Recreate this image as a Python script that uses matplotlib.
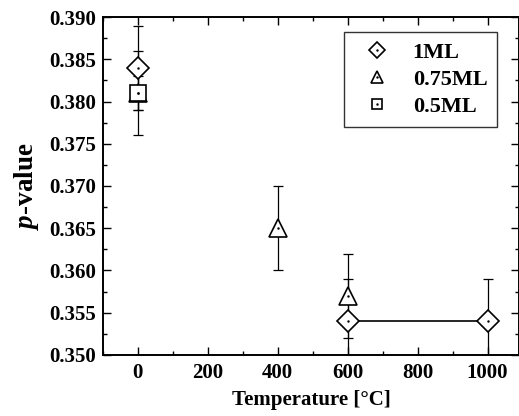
import numpy as np
import matplotlib.pyplot as plt
from matplotlib.ticker import MultipleLocator, FormatStrFormatter
from matplotlib.legend_handler import HandlerTuple

plt.rcParams['font.family'] = 'Liberation Serif'
plt.rcParams['font.weight'] = 'bold'
plt.rcParams['mathtext.fontset'] = 'custom'
plt.rcParams['mathtext.it'] = 'Liberation Serif:italic:bold'
plt.rcParams['mathtext.rm'] = 'Liberation Serif:bold'

# data
temp_1ml = [0, 600, 1000]
p_1ml = [0.384, 0.354, 0.354]
err_1ml = [0.005, 0.005, 0.005]

temp_075ml = [0, 400, 600]
p_075ml = [0.381, 0.365, 0.357]
err_075ml = [0.005, 0.005, 0.005]

temp_05ml = [0]
p_05ml = [0.381]
err_05ml = [0.002]

fig = plt.figure(figsize=(5.19, 4.16), dpi=100)
ax = fig.add_axes([0.198, 0.147, 0.802, 0.812])

# connecting line for 1ML between 600 and 1000
ax.plot(temp_1ml[1:], p_1ml[1:], color='black', lw=1.2, zorder=1)

series = [
    (temp_1ml, p_1ml, err_1ml, 'D', 11, 8, '1ML'),
    (temp_075ml, p_075ml, err_075ml, '^', 13, 8.5, '0.75ML'),
    (temp_05ml, p_05ml, err_05ml, 's', 12, 7, '0.5ML'),
]
handles = []
labels = []
for x, y, e, m, ms, lms, lab in series:
    ax.errorbar(x, y, yerr=e, fmt='none', ecolor='black', elinewidth=0.9,
                capsize=3.5, capthick=0.9, zorder=2)
    ax.plot(x, y, linestyle='none', marker=m, ms=ms, mfc='white', mec='black',
            mew=1.2, zorder=3)
    ax.plot(x, y, linestyle='none', marker='.', ms=1.5, color='black', zorder=4)
    h1, = ax.plot([], [], linestyle='none', marker=m, ms=lms, mfc='white',
                  mec='black', mew=1.2)
    h2, = ax.plot([], [], linestyle='none', marker='.', ms=1.5, color='black')
    handles.append((h1, h2))
    labels.append(lab)

ax.set_xlim(-100, 1090)
ax.set_ylim(0.350, 0.390)
ax.xaxis.set_major_locator(MultipleLocator(200))
ax.xaxis.set_minor_locator(MultipleLocator(100))
ax.yaxis.set_major_locator(MultipleLocator(0.005))
ax.yaxis.set_minor_locator(MultipleLocator(0.0025))
ax.yaxis.set_major_formatter(FormatStrFormatter('%.3f'))
ax.tick_params(which='both', direction='in', top=True, right=True,
               labelsize=15, width=1.0)
ax.tick_params(axis='y', pad=5)
ax.tick_params(axis='x', pad=6)
ax.tick_params(which='major', length=6)
ax.tick_params(which='minor', length=3)
for s in ax.spines.values():
    s.set_linewidth(1.4)

ax.set_xlabel('Temperature [°C]', fontsize=15, fontweight='bold', labelpad=5)
ax.set_ylabel(r'$p$-value', fontsize=19.5, fontweight='bold', labelpad=6)

leg = ax.legend(handles, labels, handler_map={tuple: HandlerTuple(ndivide=1)},
                loc='upper right', bbox_to_anchor=(0.948, 0.955), fontsize=16,
                frameon=True, fancybox=False, edgecolor='black',
                handlelength=2.1, handletextpad=0.55, borderpad=0.45,
                labelspacing=0.3, borderaxespad=0)
leg.get_frame().set_linewidth(1.0)

fig.savefig('out.png', dpi=100)
